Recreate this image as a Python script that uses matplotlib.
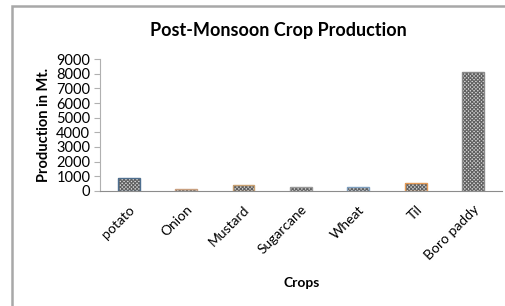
import matplotlib.pyplot as plt
from matplotlib.patches import Rectangle
import numpy as np

plt.rcParams['font.family'] = ['Lato', 'DejaVu Sans']
plt.rcParams['hatch.linewidth'] = 0.8

# Datos de producción post-monzón
cultivos = ['potato', 'Onion', 'Mustard', 'Sugarcane', 'Wheat', 'Til', 'Boro paddy']
produccion = [870, 140, 390, 270, 270, 570, 8150]
bordes = ['#4f6f8f', '#c9a080', '#c8a070', '#9a9a9a', '#7f9fbf', '#e59a55', '#8a8a8a']

fig = plt.figure(figsize=(5.06, 3.06), dpi=100)
ax = fig.add_axes([0.1976, 0.376, 0.7944, 0.431])

x = np.arange(len(cultivos))
# relleno con trama
ax.bar(x, produccion, width=0.38, color='#d6d6d6', edgecolor='#606060',
       hatch='xxxxxxxxx', linewidth=0)
# borde de cada barra
ax.bar(x, produccion, width=0.38, color='none', edgecolor=bordes, linewidth=1.0)

ax.set_xlim(-0.5, len(cultivos) - 0.5)
ax.set_ylim(0, 9000)
ax.set_yticks(np.arange(0, 9001, 1000))
ax.set_xticks(x)
ax.set_xticklabels(cultivos, rotation=45, ha='right', rotation_mode='anchor')

for s in ['top', 'right']:
    ax.spines[s].set_visible(False)
ax.spines['left'].set_color('#b0b0b0')
ax.spines['bottom'].set_color('#8c8c8c')
ax.tick_params(axis='y', length=4, color='#b0b0b0', labelsize=10.5, pad=3)
ax.tick_params(axis='x', length=0, labelsize=10, pad=9)

ax.set_ylabel('Production in Mt.', fontsize=10.5, fontweight='bold', labelpad=4)
fig.text(0.597, 0.075, 'Crops', ha='center', va='center', fontsize=10, fontweight='bold')
fig.text(0.55, 0.9, 'Post-Monsoon Crop Production', ha='center', va='center',
         fontsize=13, fontweight='bold')

# marco exterior del gráfico
fig.patches.append(Rectangle((12 / 506, -0.1), 1.1, 1.1 - 6 / 306,
                             transform=fig.transFigure, fill=False,
                             edgecolor='#a8a8a8', linewidth=1.8))

fig.savefig('out.png', dpi=100)
